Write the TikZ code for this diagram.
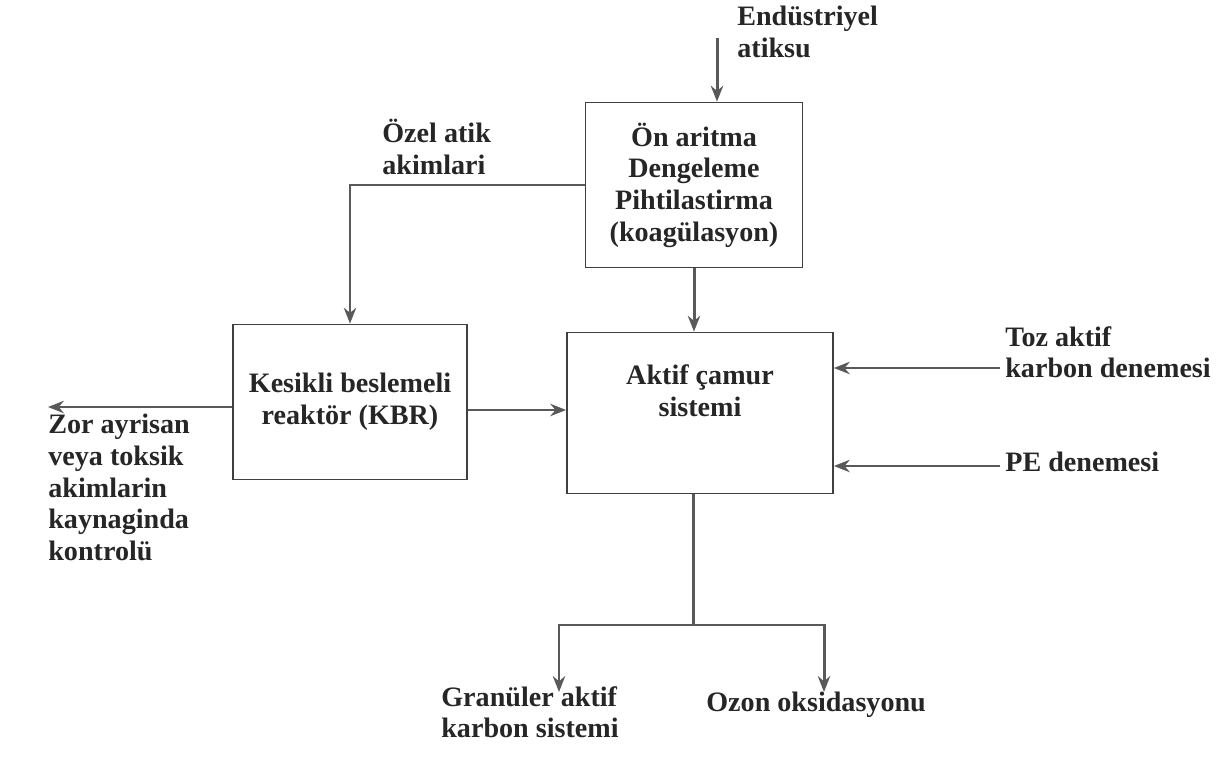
\documentclass[tikz,border=0pt]{standalone}
\usepackage{fontspec}
\setmainfont{Liberation Serif}
\usetikzlibrary{arrows.meta,positioning}

\begin{document}
\begin{tikzpicture}[x=0.02cm, y=-0.02cm, >={Stealth[length=9pt,width=7pt]}, font=\fontsize{16}{18}\selectfont\bfseries,
	box/.style={draw=black!75, line width=1pt, align=center, inner sep=0pt, text=black!85},
	flow/.style={->, draw=black!65, line width=1.7pt},
	lbl/.style={align=left, inner sep=0pt, anchor=north west, text=black!85}]
	\useasboundingbox (0,0) rectangle (1221,767);

	% Nodes {pre, kbr, as}
	\node [box, minimum width=4.34cm, minimum height=3.3cm]	(pre)	at (694,185)	{Ön aritma\\Dengeleme\\Pihtilastirma\\(koagülasyon)};
	\node [box, minimum width=4.68cm, minimum height=3.1cm]	(kbr)	at (350,402)	{Kesikli beslemeli\\reaktör (KBR)};
	\node [box, minimum width=5.32cm, minimum height=3.22cm]	(as)	at (700,413)	{};
	\node [align=center, inner sep=0pt, text=black!85]		(astext) at (700,391)	{Aktif çamur\\sistemi};

	% Labels
	\node [lbl]	(endlbl)	at (737,6)		{Endüstriyel\\atiksu};
	\node [lbl]	(ozellbl)	at (382,119)	{Özel atik\\akimlari};
	\node [lbl]	(zorlbl)	at (48,414)		{Zor ayrisan\\veya toksik\\akimlarin\\kaynaginda\\kontrolü};
	\node [lbl]	(tozlbl)	at (1005,326)	{Toz aktif\\karbon denemesi};
	\node [lbl]	(pelbl)		at (1005,452)	{PE denemesi};
	\node [lbl]	(granlbl)	at (441,686)	{Granüler aktif\\karbon sistemi};
	\node [lbl]	(ozonlbl)	at (706,692)	{Ozon oksidasyonu};

	% Coordinates
	\coordinate (in)	at (717,38);
	\coordinate (zor)	at (48,407);
	\coordinate (toz)	at (1000,368);
	\coordinate (pe)	at (1000,466);
	\coordinate (split)	at (693,625);
	\coordinate (gran)	at (559,692);
	\coordinate (ozon)	at (824,692);

	% Paths
	\path	(in) edge [flow]									(in |- pre.north);
	\path	(pre.west) edge [flow, to path={-| (\tikztotarget)}]	(kbr.north);
	\path	(pre.south) edge [flow]							(pre.south |- as.north);
	\path	(kbr.east |- 0,410) edge [flow]					(as.west |- 0,410);
	\path	(kbr.west |- zor) edge [flow]						(zor);
	\path	(toz) edge [flow]									(toz -| as.east);
	\path	(pe) edge [flow]									(pe -| as.east);
	\path	(as.south -| split) edge [flow, -]					(split);
	\path	(split) edge [flow, to path={-| (\tikztotarget)}]	(gran);
	\path	(split) edge [flow, to path={-| (\tikztotarget)}]	(ozon);

\end{tikzpicture}
\end{document}
